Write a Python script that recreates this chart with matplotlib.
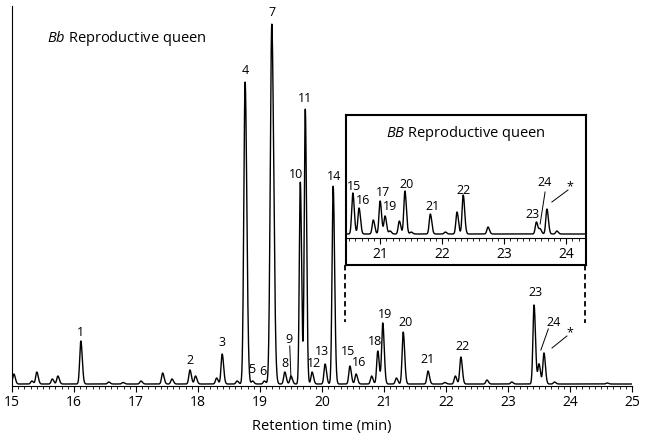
import numpy as np
import matplotlib
matplotlib.use("Agg")
import matplotlib.pyplot as plt
from matplotlib.ticker import MultipleLocator

plt.rcParams['font.family'] = ['Open Sans', 'DejaVu Sans']
plt.rcParams['mathtext.fontset'] = 'custom'
plt.rcParams['mathtext.rm'] = 'Open Sans'
plt.rcParams['mathtext.it'] = 'Open Sans:italic'

# main chromatogram: peak retention times (min), heights (a.u.), widths (sigma, min)
rt_main = [15.03, 15.32, 15.40, 15.65, 15.74, 16.11, 16.56, 16.79, 17.08, 17.43,
           17.58, 17.87, 17.96, 18.30, 18.39, 18.63, 18.76, 18.88, 19.07, 19.19,
           19.40, 19.50, 19.65, 19.73, 19.84, 20.05, 20.18, 20.45, 20.55, 20.80,
           20.90, 20.98, 21.20, 21.31, 21.71, 21.98, 22.15, 22.24, 22.66, 23.06,
           23.42, 23.50, 23.58, 23.75, 24.6]
h_main = [10, 3, 12, 5, 8, 43, 2, 1.5, 3, 11,
          5, 14, 8, 6, 30, 3, 302, 3, 3, 360,
          12, 8, 202, 275, 12, 20, 198, 18, 10, 8,
          33, 61, 6, 52, 13, 1.5, 8, 27, 4, 2,
          79, 20, 31, 2, 1]
w_main = [0.018] * len(rt_main)
w_main[16] = 0.021
w_main[19] = 0.024
w_main[22] = 0.016
w_main[23] = 0.016

# inset chromatogram (BB reproductive queen)
rt_ins = [20.56, 20.66, 20.89, 21.00, 21.08, 21.16, 21.31, 21.40, 21.50, 21.81,
          22.05, 22.24, 22.34, 22.74, 23.52, 23.58, 23.69, 23.85]
h_ins = [41, 26, 14, 33, 18, 3, 13, 43, 2, 20,
         2, 22, 39, 7, 12, 5, 25, 3]
w_ins = [0.018] * len(rt_ins)

# peak labels
lab_main = ["1", "2", "3", "4", "5", "6", "7", "8", "10", "11", "12", "13", "14",
            "15", "16", "18", "19", "20", "21", "22", "23"]
lab_main_x = [16.11, 17.87, 18.39, 18.76, 18.87, 19.05, 19.19, 19.40, 19.58, 19.73,
              19.87, 20.00, 20.19, 20.42, 20.60, 20.85, 21.02, 21.34, 21.71, 22.26, 23.45]
lab_main_y = [53, 24, 42, 315, 15, 13, 373, 21, 211, 286,
              21, 33, 209, 33, 22, 43, 70, 62, 25, 38, 92]

lab_ins = ["15", "16", "17", "19", "20", "21", "22", "23"]
lab_ins_x = [20.58, 20.73, 21.05, 21.16, 21.42, 21.84, 22.34, 23.45]
lab_ins_y = [48, 35, 42, 28, 51, 28, 45, 20]


def trace(t, rts, hs, ws, tail=1.3):
    y = np.zeros_like(t)
    for rt, h, w in zip(rts, hs, ws):
        s = np.where(t < rt, w, w * tail)
        y += h * np.exp(-(t - rt) ** 2 / (2 * s ** 2))
    return y


t = np.linspace(15, 25, 5000)
y_main = trace(t, rt_main, h_main, w_main)
t2 = np.linspace(20.3, 24.5, 3000)
y_ins = trace(t2, rt_ins, h_ins, w_ins)

W, H = 645, 439
fig = plt.figure(figsize=(W / 100, H / 100), dpi=100)


def rect(l, r, top, bot):
    return [l / W, 1 - bot / H, (r - l) / W, (bot - top) / H]


ax = fig.add_axes(rect(12, 632, 7, 387))
ax.plot(t, y_main, color='black', lw=1.0)
ax.set_xlim(15, 25)
ax.set_ylim(-2, 378)
ax.spines['top'].set_visible(False)
ax.spines['right'].set_visible(False)
ax.set_yticks([])
ax.xaxis.set_major_locator(MultipleLocator(1))
ax.xaxis.set_minor_locator(MultipleLocator(0.1))
ax.tick_params(axis='x', which='major', length=4, labelsize=10, pad=2)
ax.tick_params(axis='x', which='minor', length=2)
ax.set_xlabel("Retention time (min)", fontsize=10.5, labelpad=6)
ax.text(15.57, 347, r"$\mathit{Bb}$ Reproductive queen", fontsize=10.5,
        ha='left', va='center')

for s, x, y in zip(lab_main, lab_main_x, lab_main_y):
    ax.text(x, y, s, fontsize=9, ha='center', va='center')
ax.text(19.47, 45, "9", fontsize=9, ha='center', va='center')
ax.plot([19.48, 19.50], [38, 5], color='black', lw=0.7)
ax.text(23.73, 63, "24", fontsize=9, ha='center', va='center')
ax.plot([23.65, 23.53], [55, 34], color='black', lw=0.7)
ax.text(24.0, 52, "*", fontsize=9, ha='center', va='center')
ax.plot([23.95, 23.71], [48, 36], color='black', lw=0.7)

# dashed connectors from inset down to main trace
ax.plot([20.37, 20.37], [119, 62], color='black', lw=1.3, ls=(0, (3, 2)))
ax.plot([24.24, 24.24], [119, 61], color='black', lw=1.3, ls=(0, (3, 2)))

# inset frame
box = fig.add_axes(rect(346, 586, 116, 266))
box.set_xticks([])
box.set_yticks([])
for sp in box.spines.values():
    sp.set_linewidth(1.5)
box.patch.set_alpha(0)
box.text(0.5, 0.885, r"$\mathit{BB}$ Reproductive queen", fontsize=10.5,
         ha='center', va='center', transform=box.transAxes)

ins = fig.add_axes(rect(346, 586, 150, 239))
ins.patch.set_alpha(0)
ins.plot(t2, y_ins, color='black', lw=1.0)
ins.set_xlim(20.45, 24.32)
ins.set_ylim(-4, 85)
for k in ['top', 'right', 'left']:
    ins.spines[k].set_visible(False)
ins.set_yticks([])
ins.xaxis.set_major_locator(MultipleLocator(1))
ins.xaxis.set_minor_locator(MultipleLocator(0.1))
ins.tick_params(axis='x', which='major', length=4, labelsize=10, pad=2)
ins.tick_params(axis='x', which='minor', length=2)
for s, x, y in zip(lab_ins, lab_ins_x, lab_ins_y):
    ins.text(x, y, s, fontsize=9, ha='center', va='center')
ins.text(23.66, 52, "24", fontsize=9, ha='center', va='center')
ins.plot([23.66, 23.58], [42, 10], color='black', lw=0.7)
ins.text(24.06, 48, "*", fontsize=9, ha='center', va='center')
ins.plot([24.03, 23.77], [44, 32], color='black', lw=0.7)

fig.savefig("out.png", dpi=100)
